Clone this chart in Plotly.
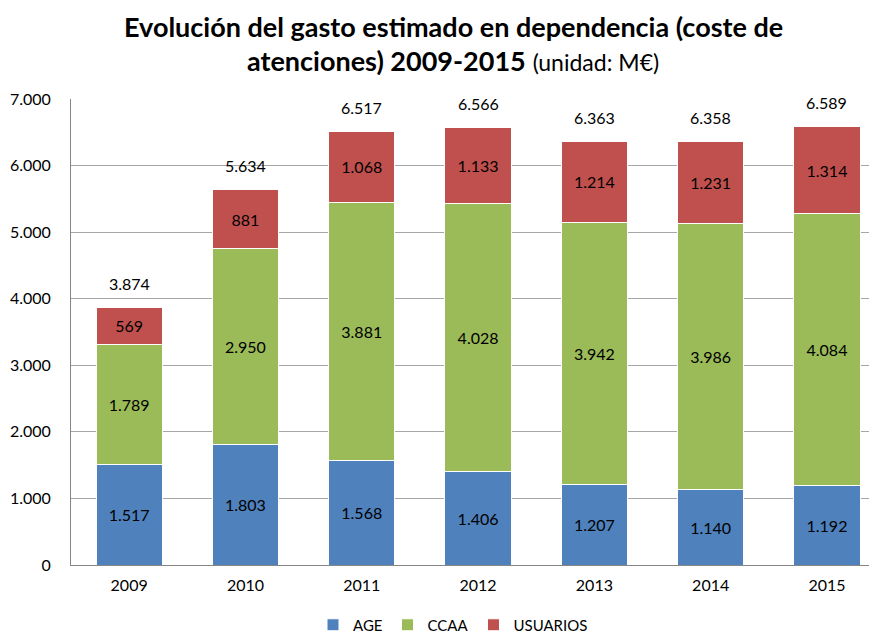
import plotly.graph_objects as go

years = ["2009", "2010", "2011", "2012", "2013", "2014", "2015"]
age = [1517, 1803, 1568, 1406, 1207, 1140, 1192]
ccaa = [1789, 2950, 3881, 4028, 3942, 3986, 4084]
usuarios = [569, 881, 1068, 1133, 1214, 1231, 1314]
totals = [3874, 5634, 6517, 6566, 6363, 6358, 6589]

FONT = "Lato"
colors = {"AGE": "#4F81BD", "CCAA": "#9BBB59", "USUARIOS": "#C0504D"}

# page shows the figure offset by 8px (body margin); compensate
W, H = 869, 625
ML, MT, PW, PH = 63, 91, 806, 466

fig = go.Figure()
for name, vals in [("AGE", age), ("CCAA", ccaa), ("USUARIOS", usuarios)]:
    fig.add_trace(go.Bar(
        x=years, y=vals, name=name,
        marker=dict(color=colors[name], line=dict(color="white", width=1)),
        texttemplate="%{y:,d}", textposition="inside", insidetextanchor="middle",
        textangle=0, constraintext="none",
        textfont=dict(family=FONT, size=16, color="black"),
        width=0.57,
    ))

for i, tot in enumerate(totals):
    fig.add_annotation(
        x=i, y=tot, xref="x", yref="y", text=f"{tot:,d}".replace(",", "."),
        showarrow=False, yanchor="middle", yshift=24,
        font=dict(family=FONT, size=16, color="black"),
    )

cx = (445 - ML) / PW
fig.add_annotation(
    xref="paper", yref="paper", x=cx, y=1 + (MT - 18) / PH, xanchor="center", yanchor="middle",
    text="<b>Evolución del gasto estimado en dependencia (coste de</b>", showarrow=False,
    font=dict(family=FONT, size=27, color="black"),
)
fig.add_annotation(
    xref="paper", yref="paper", x=cx, y=1 + (MT - 53) / PH, xanchor="center", yanchor="middle",
    text="<b>atenciones) 2009-2015</b> <span style='font-size:23px'>(unidad: M€)</span>", showarrow=False,
    font=dict(family=FONT, size=27, color="black"),
)

fig.update_layout(
    width=W, height=H,
    barmode="stack",
    separators=",.",
    paper_bgcolor="white", plot_bgcolor="white",
    margin=dict(l=ML, r=W - ML - PW, t=MT, b=H - MT - PH, autoexpand=False),
    font=dict(family=FONT, size=16, color="black"),
    legend=dict(orientation="h", x=cx, xanchor="center", y=-60 / PH, yanchor="middle",
                font=dict(family=FONT, size=15), traceorder="normal",
                itemwidth=30),
    xaxis=dict(type="category", range=[-0.5, 6.43], showline=True, linecolor="#868686",
               linewidth=1, ticks="", tickfont=dict(family=FONT, size=16), showgrid=False,
               ticklabelstandoff=6, automargin=False),
    yaxis=dict(range=[0, 7000], dtick=1000, tickformat=",d", showline=True,
               linecolor="#868686", linewidth=1, gridcolor="#A6A6A6", gridwidth=1,
               ticks="", ticklabelstandoff=16, tickfont=dict(family=FONT, size=16),
               zeroline=False, automargin=False),
    bargap=0.43,
)

fig.write_html("out.html")
